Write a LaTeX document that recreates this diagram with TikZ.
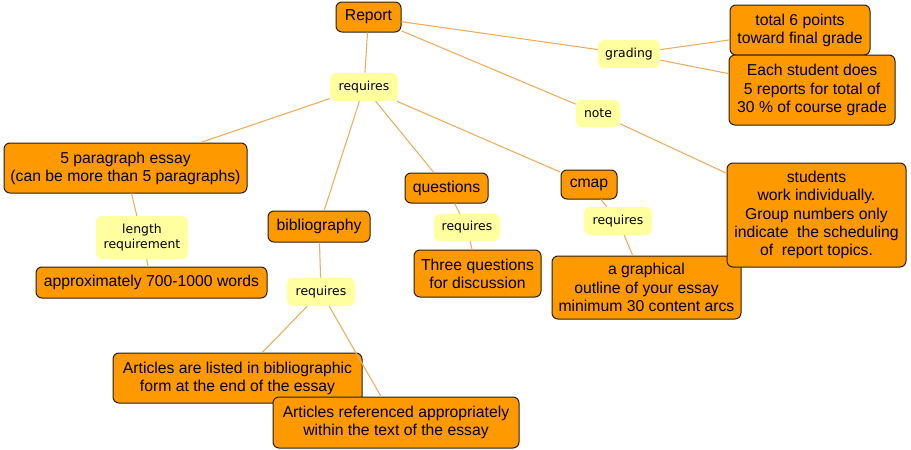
\documentclass[tikz,border=0pt]{standalone}
\usepackage{fontspec}
\setmainfont{Liberation Sans}
\newfontfamily\linkfnt{DejaVu Sans}
\definecolor{conceptfill}{RGB}{255,153,0}
\definecolor{linkfill}{RGB}{255,255,160}
\definecolor{edgecol}{RGB}{238,172,92}
\definecolor{bordercol}{RGB}{40,30,20}
\begin{document}
\begin{tikzpicture}[x=0.75pt,y=-0.75pt,
  box/.style 2 args={minimum width=#1*0.75pt, minimum height=#2*0.75pt},
  concept/.style={draw=bordercol, line width=0.75pt, fill=conceptfill, rounded corners=4.5pt,
    inner sep=0pt, align=center, font=\fontsize{11.8}{13.6}\selectfont},
  link/.style={fill=linkfill, rounded corners=4.5pt, inner sep=0pt, align=center,
    font=\linkfnt\fontsize{9.3}{11}\selectfont},
  edge/.style={draw=edgecol, line width=0.8pt}]
\useasboundingbox (0,0) rectangle (911,450);

\node[concept, box={65}{30}] (rep) at (368.5,17) {Report};
\node[link, box={68}{28}] (req1) at (364,87) {requires};
\node[link, box={62}{28}] (grading) at (629,54) {grading};
\node[link, box={44}{27}] (note) at (598,113.5) {note};
\node[concept, box={140}{50}] (tot) at (800,30) {total 6 points\\toward final grade};
\node[concept, box={166}{70}] (each) at (812,90) {Each student does\\5 reports for total of\\30 \% of course grade};
\node[concept, box={243}{50}] (para) at (125.5,168) {5 paragraph essay\\(can be more than 5 paragraphs)};
\node[link, box={92}{43}] (len) at (142,237.5) {length\\requirement};
\node[concept, box={231}{31}] (approx) at (151.5,282.5) {approximately 700-1000 words};
\node[concept, box={102}{31}] (bib) at (319,226.5) {bibliography};
\node[link, box={68}{28}] (req2) at (321,292) {requires};
\node[concept, box={83}{30}] (ques) at (446.5,188) {questions};
\node[link, box={66}{27}] (req3) at (467,227.5) {requires};
\node[concept, box={127}{47}] (three) at (477.5,273.5) {Three questions\\for discussion};
\node[concept, box={56}{29}] (cmap) at (589,184.5) {cmap};
\node[link, box={68}{28}] (req4) at (618,221) {requires};
\node[concept, box={189}{63}] (graph) at (646.5,287.5) {a graphical\\outline of your essay\\minimum 30 content arcs};
\node[concept, box={179}{104}] (stud) at (816.5,215) {students\\work individually.\\Group numbers only\\indicate\ \ the scheduling\\of\ \ report topics.};
\node[concept, box={249}{50}] (listed) at (237.5,378) {Articles are listed in bibliographic\\form at the end of the essay};
\node[concept, box={246}{51}] (refd) at (396,422.5) {Articles referenced appropriately\\within the text of the essay};

\draw[edge] (rep) -- (req1);
\draw[edge] (rep) -- (grading);
\draw[edge] (rep) -- (note);
\draw[edge] (grading) -- (tot);
\draw[edge] (grading) -- (each);
\draw[edge] (note) -- (stud);
\draw[edge] (req1) -- (para);
\draw[edge] (req1) -- (bib);
\draw[edge] (req1) -- (ques);
\draw[edge] (req1) -- (cmap);
\draw[edge] (para) -- (len);
\draw[edge] (len) -- (approx);
\draw[edge] (bib) -- (req2);
\draw[edge] (req2) -- (listed);
\draw[edge] (req2) -- (refd);
\draw[edge] (ques) -- (req3);
\draw[edge] (req3) -- (three);
\draw[edge] (cmap) -- (req4);
\draw[edge] (req4) -- (graph);
\end{tikzpicture}
\end{document}
